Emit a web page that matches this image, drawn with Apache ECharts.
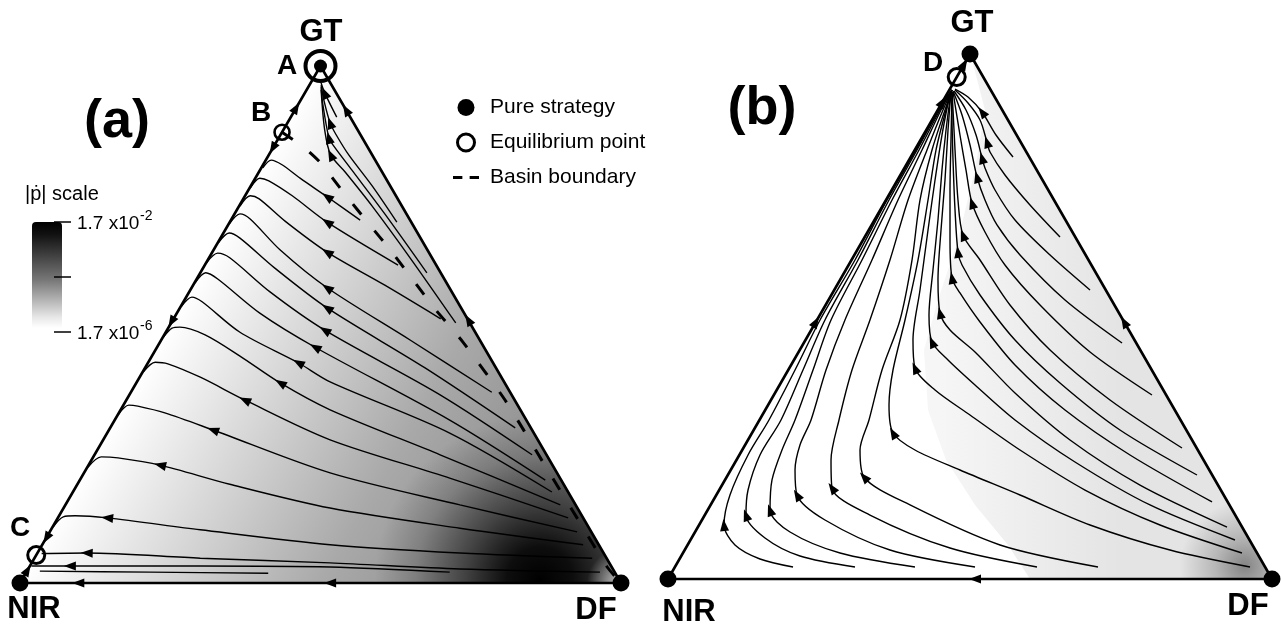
<!DOCTYPE html>
<html>
<head>
<meta charset="utf-8">
<title>Replicator dynamics on the simplex</title>
<script src="https://cdn.jsdelivr.net/npm/echarts@6/dist/echarts.min.js"></script>
<style>
  html, body { margin: 0; padding: 0; background: #fff; }
  #chart { width: 1281px; height: 625px; }
</style>
</head>
<body>
<div id="chart"></div>
<script>
const FONT = "'Liberation Sans', Arial, Helvetica, sans-serif";

// simplex corners (x: % of base, y: % of height)
const vertices = { NIR: [0, 0], DF: [100, 0], GT: [50, 100] };

// equilibrium points
const equilibriaA = [[50, 100], [43.6, 87.2], [2.7, 5.4]]; // A, B, C
const equilibriaB = [[47.8, 95.6]];                         // D

// panel (a): trajectories, written from start to end (flow direction)
const streamlinesA = [
  [[56.6,70.2],[51.1,74.7],[46.6,78.3],[43.6,80.9],[41.8,81.8],[40.4,80.3]],
  [[62.9,61.5],[51.1,69.8],[45.3,74.9],[41.4,77.8],[39.9,78.3],[38.3,76.4]],
  [[70.0,51.1],[60.7,57.6],[51.1,64.0],[44.1,70.0],[39.8,74.3],[38.3,74.9],[36.6,72.9]],
  [[78.5,36.9],[64.9,47.0],[51.1,57.1],[43.3,64.4],[38.3,70.4],[36.6,71.4],[34.8,69.4]],
  [[82.4,30.0],[67.4,41.6],[51.1,53.2],[42.4,60.9],[36.6,66.7],[34.8,67.7],[33.0,65.8]],
  [[85.2,24.8],[69.9,36.4],[50.7,48.9],[41.6,56.3],[34.9,62.9],[32.9,63.8],[31.0,61.9]],
  [[87.4,19.9],[71.5,31.5],[49.1,45.6],[39.9,52.2],[32.9,58.8],[30.9,60.0],[29.1,58.0]],
  [[88.5,17.6],[71.5,29.0],[51.6,38.9],[46.3,42.6],[36.6,48.5],[30.3,54.4],[28.6,55.3],[26.8,53.4]],
  [[89.9,15.1],[69.9,24.8],[51.6,33.5],[43.3,38.7],[36.6,43.9],[30.8,48.0],[26.6,49.5],[25.3,49.3],[23.9,47.6]],
  [[91.2,12.6],[71.5,20.3],[51.6,27.7],[37.4,35.4],[30.0,39.8],[24.6,42.4],[22.5,42.7],[20.5,40.8]],
  [[92.7,9.9],[73.2,15.1],[51.6,21.3],[32.1,29.6],[24.1,32.9],[19.6,34.2],[18.1,34.4],[16.3,32.5]],
  [[93.7,7.4],[73.2,10.6],[51.6,14.5],[34.9,19.1],[23.3,22.8],[16.3,24.2],[13.5,24.4],[11.3,22.4]],
  [[95.2,4.8],[73.2,5.8],[51.6,7.4],[30.0,10.3],[14.5,12.6],[9.2,13.0],[7.2,12.8],[5.5,10.8]],
  [[96.5,2.1],[73.2,2.7],[51.6,3.9],[30.0,4.8],[11.1,5.8],[3.6,5.7]],
  [[71.5,2.1],[51.6,3.1],[30.0,3.3],[8.3,3.3],[1.9,3.3]],
  [[41.3,1.9],[21.6,2.1],[3.3,2.3]],
  [[52.7,90.1],[50.7,94.8],[50.1,96.7]],
  [[62.7,69.8],[58.6,76.8],[54.7,82.8],[52.6,86.7],[51.6,89.0],[50.6,93.2],[50.1,96.3]],
  [[67.7,60.0],[60.7,71.4],[55.2,79.9],[52.1,84.7],[51.4,86.1],[50.4,92.5],[50.1,95.9]],
  [[72.5,50.3],[64.9,62.9],[58.6,72.9],[54.1,79.5],[51.7,82.8],[50.7,87.6],[50.1,95.4]]
];
// which point of each trajectory carries the arrow head (-1 = none)
const arrowIndexA = [1,1,2,2,2,2,2,3,3,3,3,4,4,4,3,-1,1,4,4,4];

// separatrix between the basins of A and C
const basinBoundaryA = [[43.6,87.2],[47.4,84.1],[49.9,81.4],[54.2,75.0],[58.1,69.4],[61.9,64.0],
  [65.4,58.6],[69.2,52.8],[73.7,46.6],[80.7,35.4],[87.0,23.4],[93.2,11.6],[97.7,3.1],[100,0]];

// arrows on the edges: [x, y, towardX, towardY]
const edgeArrowsA = [
  [45.95,91.9,50,100],[42.05,84.1,0,0],[25.2,50.5,0,0],[4.4,8.7,0,0],[1.25,2.5,50,100],
  [54.25,91.5,50,100],[74.6,50.9,50,100],[9.7,0,0,0],[51.6,0,0,0]
];

// panel (b): trajectories, inner to outer
const streamlinesB = [
  [[20.70,2.29],[15.23,3.81],[11.09,6.48],[9.27,10.29],[10.26,16.0],[13.25,23.62],[16.72,30.29],[21.03,39.81],[25.17,49.33],[30.96,60.76],[36.26,72.19],[41.06,81.71],[44.70,89.33],[47.02,93.14]],
  [[30.96,2.29],[21.85,4.38],[16.06,7.81],[12.91,12.19],[13.25,16.95],[15.23,23.62],[18.71,30.29],[22.35,39.81],[25.99,49.33],[31.46,60.76],[36.59,72.19],[41.23,81.71],[44.87,89.33],[47.02,93.14]],
  [[40.89,2.29],[28.48,4.95],[20.20,8.95],[16.89,13.14],[17.22,18.86],[18.87,24.57],[21.03,30.29],[24.01,39.81],[26.99,49.33],[32.12,60.76],[37.09,72.19],[41.56,81.71],[45.03,89.33],[47.02,93.14]],
  [[50.83,2.29],[36.75,5.52],[25.99,11.24],[21.36,16.0],[21.03,20.76],[21.85,25.52],[23.68,30.29],[26.16,39.81],[29.30,49.33],[33.77,60.76],[38.08,72.19],[42.05,81.71],[45.20,89.33],[47.02,93.14]],
  [[61.09,2.29],[46.69,5.90],[33.44,12.19],[27.15,17.33],[26.99,22.67],[28.31,30.29],[30.46,39.81],[33.44,49.33],[36.75,60.76],[39.74,72.19],[42.88,81.71],[45.53,89.33],[47.02,93.14]],
  [[71.19,2.29],[54.97,6.48],[40.07,14.10],[32.45,19.43],[31.79,24.57],[33.28,30.29],[35.43,39.81],[38.41,49.33],[40.40,60.76],[41.72,72.19],[43.71,81.71],[45.86,89.33],[47.02,93.14]],
  [[96.36,2.29],[83.11,5.52],[69.87,10.29],[58.28,16.0],[48.34,20.76],[40.89,24.57],[37.25,27.81],[36.59,33.14],[37.25,39.81],[39.24,49.33],[41.39,60.76],[43.05,72.19],[44.37,81.71],[46.03,89.33],[47.02,93.14]],
  [[95.03,4.95],[81.46,10.29],[69.04,16.95],[58.28,24.57],[50.0,31.24],[44.21,36.0],[40.89,40.19],[40.56,45.52],[41.72,55.05],[43.05,66.48],[44.21,76.0],[45.36,84.57],[46.69,92.57]],
  [[93.87,7.43],[79.80,14.10],[67.38,22.29],[57.45,30.29],[50.83,36.95],[46.36,41.71],[43.71,45.14],[43.21,50.29],[43.87,58.86],[44.70,68.38],[45.36,77.90],[46.03,85.52],[46.85,92.76]],
  [[92.55,9.90],[78.15,17.90],[66.56,26.48],[57.45,35.43],[50.83,43.24],[46.69,47.43],[45.03,50.67],[44.70,56.95],[45.20,66.48],[45.86,76.0],[46.36,85.52],[46.85,92.76]],
  [[90.07,14.67],[76.49,23.62],[65.73,32.19],[57.45,40.76],[51.66,48.95],[48.34,54.48],[47.02,57.33],[46.69,64.57],[46.69,74.10],[46.85,83.62],[47.02,92.76]],
  [[87.58,19.81],[74.83,28.38],[64.90,37.33],[57.45,45.52],[51.66,54.10],[48.68,59.81],[48.01,62.29],[47.52,70.29],[47.19,79.81],[47.02,88.38],[47.02,92.76]],
  [[85.10,24.95],[73.18,34.10],[63.25,43.62],[56.62,52.19],[51.66,60.76],[48.84,65.52],[48.01,72.19],[47.52,81.71],[47.19,89.33],[47.02,92.76]],
  [[80.13,35.05],[69.87,43.24],[61.59,52.19],[55.79,59.81],[52.48,66.10],[50.33,71.62],[49.34,77.90],[48.34,84.57],[47.19,92.76]],
  [[75.17,44.95],[65.73,53.14],[58.28,61.71],[54.47,67.43],[52.48,72.19],[51.16,76.57],[50.0,82.67],[48.68,88.38],[47.19,92.95]],
  [[69.87,55.05],[63.25,61.71],[57.45,68.38],[54.14,74.10],[52.48,78.29],[51.99,80.19],[51.0,84.57],[49.34,89.33],[47.35,92.95]],
  [[64.90,65.14],[59.93,71.24],[55.79,76.95],[53.31,81.33],[52.81,83.24],[51.66,87.43],[49.67,90.67],[47.52,93.14]],
  [[57.12,80.38],[54.30,84.57],[51.99,88.95],[49.67,91.81],[47.52,93.33]]
];
const arrowIndexB = [3,3,3,3,3,3,6,6,6,6,6,6,5,5,5,5,4,2];

const edgeArrowsB = [
  [45.43,90.86,50,100],[24.48,48.95,50,100],[49.05,98.1,50,100],[75.52,48.95,50,100],[50.83,0,0,0]
];

// outline of the shaded (faster) region in panel (b)
const shadeBoundaryB = [[50.33,98.86],[52.48,89.33],[50.83,77.90],[48.01,64.57],[44.70,53.14],
  [42.38,43.62],[43.05,32.19],[46.03,22.67],[50.83,14.10],[56.29,6.48],[59.93,0]];

// colour scale labels
const scaleTitle = '|\u1E57| scale';
const scaleTicks = [{ base: '1.7 x10', exp: '-2' }, { base: '', exp: '' }, { base: '1.7 x10', exp: '-6' }];

// ---------- layout ----------
const gridA = { left: 20, top: 66, width: 601, height: 517 };
const gridB = { left: 668, top: 54, width: 604, height: 525 };
const sA = [gridA.width / 100, gridA.height / 100];
const sB = [gridB.width / 100, gridB.height / 100];

function arrowItem(p, dx, dy, s) {
  const ang = Math.atan2(dy * s[1], dx * s[0]) * 180 / Math.PI;
  return { value: p, symbolRotate: ang - 90 };
}
function arrowsOnLines(lines, idx, s) {
  const out = [];
  lines.forEach((pts, i) => {
    const k = idx[i];
    if (k < 0) return;
    const a = pts[Math.max(k - 1, 0)], b = pts[Math.min(k + 1, pts.length - 1)];
    out.push(arrowItem(pts[k], b[0] - a[0], b[1] - a[1], s));
  });
  return out;
}
function edgeArrowItems(list, s) {
  return list.map(e => arrowItem([e[0], e[1]], e[2] - e[0], e[3] - e[1], s));
}

function shadeA(params, api) {
  const n = api.coord(vertices.NIR), d = api.coord(vertices.DF), g = api.coord(vertices.GT);
  const ux = g[0] - n[0], uy = g[1] - n[1];
  const t = ((d[0] - n[0]) * ux + (d[1] - n[1]) * uy) / (ux * ux + uy * uy);
  const foot = [n[0] + t * ux, n[1] + t * uy];
  const spot = api.coord([86.5, 0.6]);
  const pts = [n, d, g];
  return {
    type: 'group',
    children: [
      { type: 'polygon', shape: { points: pts }, style: { fill: {
        type: 'linear', x: foot[0], y: foot[1], x2: d[0], y2: d[1], global: true,
        colorStops: [
          { offset: 0, color: '#ffffff' }, { offset: 0.22, color: '#d9d9d9' },
          { offset: 0.5, color: '#a9a9a9' }, { offset: 0.78, color: '#8c8c8c' }, { offset: 1, color: '#7d7d7d' }
        ] } } },
      { type: 'polygon', shape: { points: pts }, style: { fill: {
        type: 'radial', x: spot[0], y: spot[1], r: 165, global: true,
        colorStops: [
          { offset: 0, color: 'rgba(0,0,0,1)' }, { offset: 0.2, color: 'rgba(0,0,0,0.9)' },
          { offset: 0.45, color: 'rgba(0,0,0,0.55)' }, { offset: 0.75, color: 'rgba(0,0,0,0.18)' },
          { offset: 1, color: 'rgba(0,0,0,0)' }
        ] } } },
      { type: 'polygon', shape: { points: pts }, style: { fill: {
        type: 'radial', x: d[0], y: d[1], r: 34, global: true,
        colorStops: [{ offset: 0, color: 'rgba(215,215,215,0.9)' }, { offset: 1, color: 'rgba(215,215,215,0)' }]
      } } }
    ]
  };
}

function shadeB(params, api) {
  const pts = shadeBoundaryB.concat([vertices.DF, vertices.GT]).map(p => api.coord(p));
  const l = api.coord([45, 50]), r = api.coord([75, 50]);
  const spot = api.coord([95.5, 2.5]);
  return {
    type: 'group',
    children: [
      { type: 'polygon', shape: { points: pts }, style: { fill: {
        type: 'linear', x: l[0], y: l[1], x2: r[0], y2: r[1], global: true,
        colorStops: [{ offset: 0, color: '#f6f6f6' }, { offset: 1, color: '#e4e4e4' }] } } },
      { type: 'polygon', shape: { points: pts }, style: { fill: {
        type: 'radial', x: spot[0], y: spot[1], r: 65, global: true,
        colorStops: [{ offset: 0, color: 'rgba(0,0,0,0.42)' }, { offset: 0.45, color: 'rgba(0,0,0,0.2)' },
          { offset: 1, color: 'rgba(0,0,0,0)' }] } } }
    ]
  };
}

function flowLine(pts, gi) {
  return {
    type: 'line', xAxisIndex: gi, yAxisIndex: gi, data: pts, symbol: 'none', showSymbol: false,
    smooth: 0.3, lineStyle: { color: '#000', width: 1.4, opacity: 1 }, clip: false, silent: true, z: 3
  };
}
function edgeLine(gi) {
  return {
    type: 'line', xAxisIndex: gi, yAxisIndex: gi,
    data: [vertices.NIR, vertices.DF, vertices.GT, vertices.NIR],
    symbol: 'none', lineStyle: { color: '#000', width: 2.6, opacity: 1 }, clip: false, silent: true, z: 4
  };
}
function arrowSeries(gi, items) {
  return {
    type: 'scatter', xAxisIndex: gi, yAxisIndex: gi, data: items, symbol: 'triangle',
    symbolSize: [9, 12], itemStyle: { color: '#000', opacity: 1 }, clip: false, silent: true, z: 5
  };
}

const series = [
  { type: 'custom', xAxisIndex: 0, yAxisIndex: 0, data: [[0, 0]], renderItem: shadeA, silent: true, clip: false, z: 1 },
  { type: 'custom', xAxisIndex: 1, yAxisIndex: 1, data: [[0, 0]], renderItem: shadeB, silent: true, clip: false, z: 1 }
];
streamlinesA.forEach(p => series.push(flowLine(p, 0)));
streamlinesB.forEach(p => series.push(flowLine(p, 1)));
series.push(edgeLine(0), edgeLine(1));
series.push({
  name: 'Basin boundary', type: 'line', xAxisIndex: 0, yAxisIndex: 0, data: basinBoundaryA,
  symbol: 'none', smooth: 0.2, lineStyle: { color: '#000', width: 3, type: [13, 21], opacity: 1 },
  itemStyle: { color: '#000' }, clip: false, silent: true, z: 4
});
series.push(arrowSeries(0, arrowsOnLines(streamlinesA, arrowIndexA, sA).concat(edgeArrowItems(edgeArrowsA, sA))));
series.push(arrowSeries(1, arrowsOnLines(streamlinesB, arrowIndexB, sB).concat(edgeArrowItems(edgeArrowsB, sB))));

const dotStyle = { color: '#000', opacity: 1 };
series.push({
  name: 'Pure strategy', type: 'scatter', xAxisIndex: 0, yAxisIndex: 0, symbol: 'circle', symbolSize: 17,
  data: [vertices.NIR, vertices.DF, { value: vertices.GT, symbolSize: 13 }],
  itemStyle: dotStyle, clip: false, silent: true, z: 6
});
series.push({
  name: 'Pure strategy', type: 'scatter', xAxisIndex: 1, yAxisIndex: 1, symbol: 'circle', symbolSize: 17,
  data: [vertices.NIR, vertices.DF, vertices.GT], itemStyle: dotStyle, clip: false, silent: true, z: 6
});
const ringStyle = { color: 'rgba(0,0,0,0)', borderColor: '#000', borderWidth: 3, opacity: 1 };
series.push({
  name: 'Equilibrium point', type: 'scatter', xAxisIndex: 0, yAxisIndex: 0, symbol: 'circle',
  data: [
    { value: equilibriaA[0], symbolSize: 30, itemStyle: { borderWidth: 4 } },
    { value: equilibriaA[1], symbolSize: 15, itemStyle: { borderWidth: 2.6 } },
    { value: equilibriaA[2], symbolSize: 17 }
  ],
  itemStyle: ringStyle, clip: false, silent: true, z: 7
});
series.push({
  name: 'Equilibrium point', type: 'scatter', xAxisIndex: 1, yAxisIndex: 1, symbol: 'circle',
  data: [{ value: equilibriaB[0], symbolSize: 17 }], itemStyle: ringStyle, clip: false, silent: true, z: 7
});

function txt(x, y, s, size, bold, align) {
  return {
    type: 'text', x: x, y: y, silent: true, z: 10,
    style: { text: s, font: (bold ? 'bold ' : '') + size + 'px ' + FONT, fill: '#000',
      align: align || 'center', verticalAlign: 'middle' }
  };
}

const graphics = [
  txt(321, 32, 'GT', 31, true), txt(287, 66, 'A', 28, true), txt(261, 113, 'B', 28, true),
  txt(20, 528, 'C', 28, true), txt(34, 609, 'NIR', 31, true), txt(596, 610, 'DF', 31, true),
  txt(117, 122, '(a)', 54, true),
  txt(972, 23, 'GT', 31, true), txt(933, 63, 'D', 28, true), txt(689, 612, 'NIR', 31, true),
  txt(1248, 606, 'DF', 31, true), txt(762, 109, '(b)', 54, true),
  txt(25, 194, scaleTitle, 20, false, 'left'),
  {
    type: 'rect', shape: { x: 32, y: 222, width: 30, height: 106, r: [4, 4, 0, 0] }, silent: true, z: 9,
    style: { fill: { type: 'linear', x: 0, y: 0, x2: 0, y2: 1, colorStops: [
      { offset: 0, color: '#000' }, { offset: 0.12, color: '#121212' }, { offset: 0.55, color: '#787878' },
      { offset: 0.9, color: '#e8e8e8' }, { offset: 1, color: '#ffffff' }] } }
  }
];
const tickY = [222, 277, 332];
scaleTicks.forEach((t, i) => {
  graphics.push({ type: 'line', shape: { x1: 54, y1: tickY[i], x2: 71, y2: tickY[i] },
    style: { stroke: '#000', lineWidth: 1.5 }, silent: true, z: 10 });
  if (t.base) {
    graphics.push(txt(77, tickY[i] + 2, t.base, 19, false, 'left'));
    graphics.push(txt(140, tickY[i] - 6, t.exp, 14, false, 'left'));
  }
});

const chart = echarts.init(document.getElementById('chart'), null, { renderer: 'canvas' });
chart.setOption({
  animation: false,
  backgroundColor: '#fff',
  grid: [
    Object.assign({ show: false }, gridA),
    Object.assign({ show: false }, gridB)
  ],
  xAxis: [
    { gridIndex: 0, type: 'value', min: 0, max: 100, show: false },
    { gridIndex: 1, type: 'value', min: 0, max: 100, show: false }
  ],
  yAxis: [
    { gridIndex: 0, type: 'value', min: 0, max: 100, show: false },
    { gridIndex: 1, type: 'value', min: 0, max: 100, show: false }
  ],
  legend: {
    orient: 'vertical', left: 448, top: 92, itemWidth: 26, itemHeight: 17, itemGap: 14,
    selectedMode: false,
    textStyle: { fontSize: 21, fontFamily: FONT, color: '#000', padding: [0, 0, 0, 6] },
    data: [
      { name: 'Pure strategy', icon: 'circle', itemStyle: { color: '#000', borderWidth: 0, opacity: 1 } },
      { name: 'Equilibrium point', icon: 'circle', itemStyle: { color: '#fff', borderColor: '#000', borderWidth: 3, opacity: 1 } },
      { name: 'Basin boundary', icon: 'path://M0,0h9v3h-9z M16,0h9v3h-9z', itemStyle: { color: '#000', borderWidth: 0, opacity: 1 } }
    ]
  },
  graphic: graphics,
  series: series
});
</script>
</body>
</html>
